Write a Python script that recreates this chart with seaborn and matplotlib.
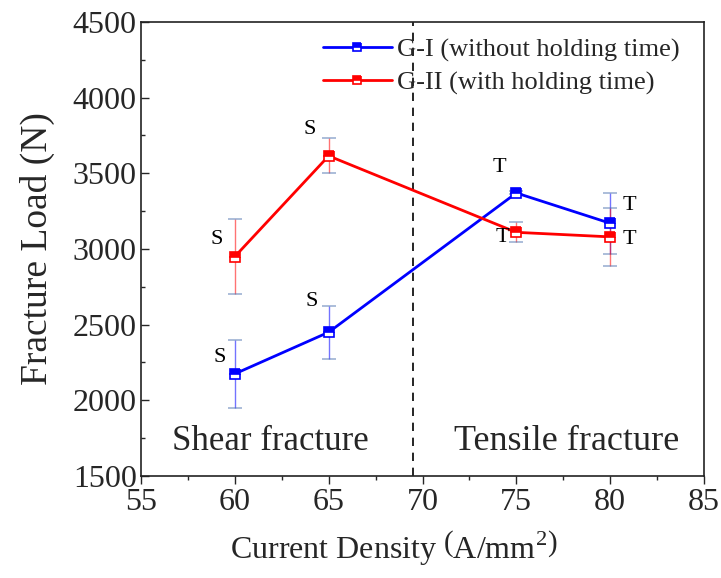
import matplotlib
matplotlib.use("Agg")
import matplotlib.pyplot as plt
import seaborn as sns
import pandas as pd

# Fracture load vs current density for the two joint groups
current_density = [60, 65, 75, 80]
g1_load = [2175, 2450, 3370, 3170]
g1_err = [225, 175, 10, 200]
g2_load = [2950, 3615, 3110, 3080]
g2_err = [250, 115, 65, 190]
g1_mode = ["S", "S", "T", "T"]
g2_mode = ["S", "S", "T", "T"]
series_names = ["G-I (without holding time)", "G-II (with holding time)"]
boundary_x = 69.5

df = pd.DataFrame({
    "Current Density": current_density * 2,
    "Load": g1_load + g2_load,
    "Err": g1_err + g2_err,
    "Group": [series_names[0]] * 4 + [series_names[1]] * 4,
})

sns.set_theme(style="ticks")
plt.rcParams["font.family"] = ["Liberation Serif", "DejaVu Serif"]
plt.rcParams["mathtext.fontset"] = "custom"
plt.rcParams["mathtext.rm"] = "Liberation Serif"

fig = plt.figure(figsize=(7.21, 5.78), dpi=100)
ax = fig.add_axes([0.1956, 0.1765, 0.7808, 0.7855])

palette = {series_names[0]: "#0000ff", series_names[1]: "#ff0000"}

# error bars first so lines and markers sit above them
for name in series_names:
    sub = df[df["Group"] == name]
    ax.errorbar(sub["Current Density"], sub["Load"], yerr=sub["Err"],
                fmt="none", ecolor=palette[name], alpha=0.55,
                elinewidth=1.0, capsize=5, capthick=1.0, zorder=2)

sns.lineplot(data=df, x="Current Density", y="Load", hue="Group",
             palette=palette, hue_order=series_names, ax=ax,
             linewidth=2.0, marker="s", markersize=7, errorbar=None,
             zorder=3)

# half-filled square markers
for line in ax.get_lines():
    line.set_fillstyle("top")
    line.set_markerfacecoloralt("white")
    line.set_markeredgecolor(line.get_color())
    line.set_markeredgewidth(1.2)

# fracture mode annotations (offsets in points from each marker)
offsets_g1 = [(-11, 12), (-12, 22), (-12, 18), (14, 13)]
offsets_g2 = [(-13, 12), (-14, 19), (-10, -4), (14, -2)]
for xs, ys, modes, offs in [(current_density, g1_load, g1_mode, offsets_g1),
                            (current_density, g2_load, g2_mode, offsets_g2)]:
    for x, y, m, (dx, dy) in zip(xs, ys, modes, offs):
        ax.annotate(m, (x, y), xytext=(dx, dy), textcoords="offset points",
                    ha="center", va="center", fontsize=16, color="black")

ax.axvline(boundary_x, color="black", linestyle=(0, (5, 4)), linewidth=1.2,
           zorder=1)

ax.text(61.9, 1730, "Shear fracture", ha="center", va="center", fontsize=25)
ax.text(77.7, 1730, "Tensile fracture", ha="center", va="center", fontsize=26)

ax.set_xlim(55, 85)
ax.set_ylim(1500, 4500)
ax.set_xticks([55, 60, 65, 70, 75, 80, 85])
ax.set_xticks([57.5, 62.5, 67.5, 72.5, 77.5, 82.5], minor=True)
ax.set_yticks([1500, 2000, 2500, 3000, 3500, 4000, 4500])
ax.set_yticks([1750, 2250, 2750, 3250, 3750, 4250], minor=True)
ax.tick_params(axis="x", which="major", direction="out", length=6, width=1.0,
               labelsize=23, pad=3)
ax.tick_params(axis="x", which="minor", direction="out", length=3, width=1.0)
ax.tick_params(axis="y", which="major", direction="in", length=6, width=1.0,
               labelsize=23, pad=3)
ax.tick_params(axis="y", which="minor", direction="in", length=3, width=1.0)
for s in ax.spines.values():
    s.set_visible(True)
    s.set_linewidth(1.2)
    s.set_color("#222222")

ax.set_xlabel(r"Current Density $\left(\mathrm{A/mm}^{2}\right)$",
              fontsize=23)
ax.xaxis.set_label_coords(0.449, -0.115)
ax.set_ylabel("Fracture Load (N)", fontsize=27)
ax.yaxis.set_label_coords(-0.152, 0.5)

handles, labels = ax.get_legend_handles_labels()
for h in handles:
    h.set_fillstyle("top")
    h.set_markerfacecoloralt("white")
    h.set_markeredgecolor(h.get_color())
    h.set_markersize(6)
leg = ax.legend(handles, labels, loc="upper right", frameon=False,
                fontsize=19, handlelength=2.6, handletextpad=0.2,
                labelspacing=0.35, borderaxespad=0.2,
                bbox_to_anchor=(0.985, 1.0))

fig.savefig("out.png", dpi=100)
